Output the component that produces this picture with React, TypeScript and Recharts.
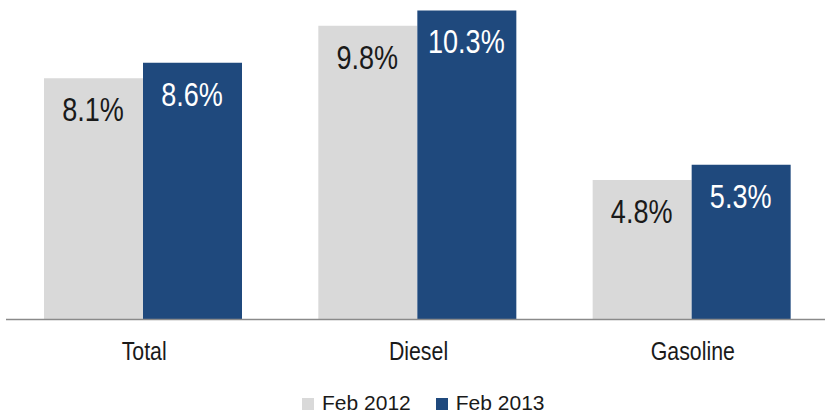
import React from 'react';
import { BarChart, Bar, XAxis, YAxis, Legend, LabelList } from 'recharts';

const categories = ['Total', 'Diesel', 'Gasoline'];
const feb2012 = [8.1, 9.8, 4.8];
const feb2013 = [8.6, 10.3, 5.3];
const seriesNames = ['Feb 2012', 'Feb 2013'];
const seriesColors = ['#D9D9D9', '#1F497D'];
const labelColors = ['#1a1a1a', '#ffffff'];

const data = categories.map((c, i) => ({ name: c, s2012: feb2012[i], s2013: feb2013[i] }));

const FONT = "'Liberation Sans', Arial, sans-serif";

const makeLabel = (color: string) => (props: any) => {
  const { x, y, width, value } = props;
  const cx = Number(x) + Number(width) / 2 - 0.5;
  return (
    <text
      x={0}
      y={0}
      transform={`translate(${cx},${Number(y) + 43}) scale(0.82,1)`}
      textAnchor="middle"
      fill={color}
      fontSize={33}
      fontFamily={FONT}
    >
      {`${Number(value).toFixed(1)}%`}
    </text>
  );
};

const Tick = (props: any) => {
  const { x, y, payload } = props;
  return (
    <text
      x={0}
      y={0}
      transform={`translate(${Number(x) + 1},${Number(y) + 40.5}) scale(0.82,1)`}
      textAnchor="middle"
      fill="#1a1a1a"
      fontSize={26}
      fontFamily={FONT}
    >
      {payload.value}
    </text>
  );
};

const LegendContent = () => (
  <div style={{ display: 'flex', fontFamily: FONT, fontSize: 21, lineHeight: '21px', color: '#1a1a1a', whiteSpace: 'nowrap' }}>
    {seriesNames.map((n, i) => (
      <div key={n} style={{ marginRight: i === 0 ? 25 : 0 }}>
        <span
          style={{
            display: 'inline-block',
            width: 12,
            height: 12,
            background: seriesColors[i],
            verticalAlign: 'baseline',
            marginRight: 8,
          }}
        />
        {n}
      </div>
    ))}
  </div>
);

export default function App() {
  return (
    <div style={{ position: 'absolute', left: 0, top: 0, width: 825, height: 413, overflow: 'hidden', background: '#fff' }}>
      <BarChart
        width={829}
        height={413}
        data={data}
        margin={{ top: 2.5, right: 0, left: 6, bottom: 33.5 }}
        barGap={0}
        barSize={99}
      >
        <XAxis
          dataKey="name"
          height={60}
          tickLine={false}
          tickSize={0}
          tickMargin={0}
          axisLine={{ stroke: '#8a8a8a', strokeWidth: 1.5 }}
          tick={<Tick />}
          interval={0}
        />
        <YAxis hide domain={[0.28, 10.556]} allowDataOverflow />
        <Legend
          verticalAlign="middle"
          layout="horizontal"
          align="center"
          wrapperStyle={{ top: 392, left: 302, width: 280 }}
          content={<LegendContent />}
        />
        <Bar dataKey="s2012" name={seriesNames[0]} fill={seriesColors[0]} isAnimationActive={false}>
          <LabelList dataKey="s2012" content={makeLabel(labelColors[0])} />
        </Bar>
        <Bar dataKey="s2013" name={seriesNames[1]} fill={seriesColors[1]} isAnimationActive={false}>
          <LabelList dataKey="s2013" content={makeLabel(labelColors[1])} />
        </Bar>
      </BarChart>
    </div>
  );
}
